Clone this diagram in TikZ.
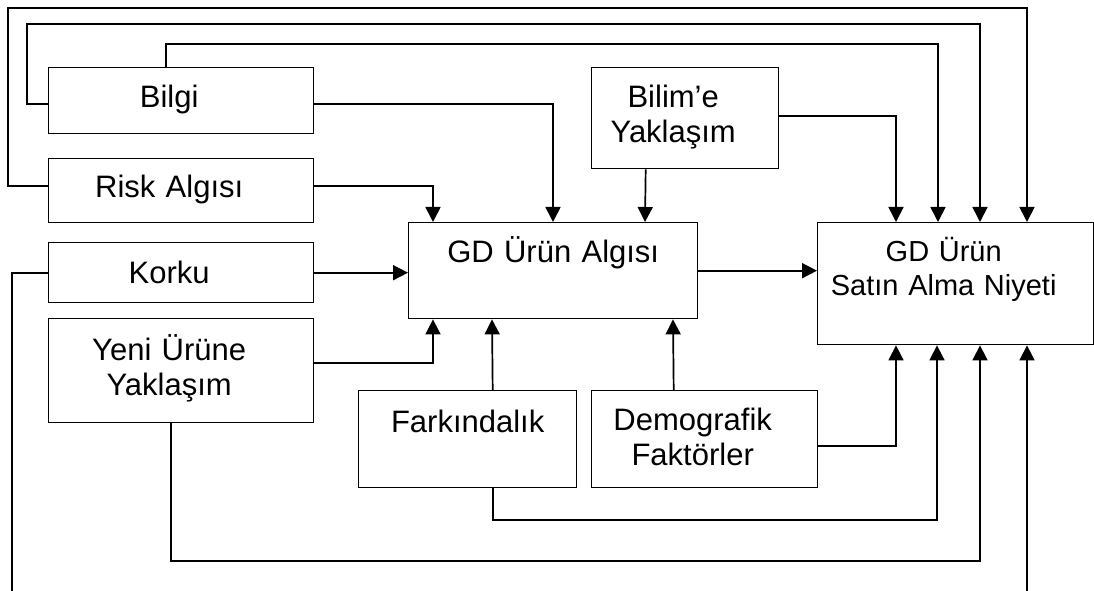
\documentclass[tikz,border=0pt]{standalone}
\usepackage{fontspec}
\setmainfont{Liberation Sans}
\usetikzlibrary{arrows.meta}

\tikzset{
  kutu/.style={draw, line width=1.4pt, inner sep=0pt, anchor=north west, align=center,
    font=\fontsize{31}{35}\selectfont},
  sol/.style={execute at begin node={\leftskip=0pt plus 1fil\rightskip=24pt plus 1fil\parfillskip=0pt\relax}},
  ok/.style={line width=1.7pt, -{Triangle[length=15pt,width=15pt]}}
}

\begin{document}
\begin{tikzpicture}[x=1pt,y=1pt]
  \useasboundingbox (0,0) rectangle (1094,590);

  \node[kutu, sol, text width=265pt, text height=40pt, text depth=26pt] (bilgi) at (48,523) {Bilgi};
  \node[kutu, sol, text width=265pt, text height=39pt, text depth=25pt] (risk) at (48,432) {Risk Algısı};
  \node[kutu, sol, text width=265pt, text height=41pt, text depth=19pt] (korku) at (48,348) {Korku};
  \node[kutu, sol, text width=265pt, text height=42pt, text depth=62pt] (yeni) at (48,272) {Yeni Ürüne\\Yaklaşım};
  \node[kutu, text width=289pt, text height=40pt, text depth=56pt] (algi) at (408,368) {GD Ürün Algısı};
  \node[kutu, sol, text width=187pt, text height=40pt, text depth=61pt] (bilim) at (591,523) {Bilim’e\\Yaklaşım};
  \node[kutu, sol, font=\fontsize{29}{34}\selectfont, text width=276pt, text height=39pt, text depth=83pt] (satin) at (817,368) {GD Ürün\\Satın Alma Niyeti};
  \node[kutu, text width=218pt, text height=42pt, text depth=55pt] (fark) at (358,200) {Farkındalık};
  \node[kutu, sol, text width=226pt, text height=40pt, text depth=57pt] (demo) at (591,200) {Demografik\\Faktörler};

  % ust hatlar
  \draw[ok] ([yshift=5pt]risk.west) -| (8,582) -| ([xshift=210pt]satin.north west);
  \draw[ok] ([yshift=-3pt]bilgi.west) -| (27,566) -| ([xshift=163pt]satin.north west);
  \draw[ok] ([xshift=-15pt]bilgi.north) |- (300,546) -| ([xshift=121pt]satin.north west);
  \draw[ok] ([yshift=2.5pt]bilim.east) -| ([xshift=79pt]satin.north west);

  \draw[ok] ([yshift=-3pt]bilgi.east) -| ([xshift=145pt]algi.north west);
  \draw[ok] ([yshift=5pt]risk.east) -| ([xshift=25pt]algi.north west);
  \draw[ok] ([xshift=-39.5pt]bilim.south) -- ([xshift=237pt]algi.north west);
  \draw[ok] (korku.east) -- (korku.east -| algi.west);
  \draw[ok] (algi.east) -- (algi.east -| satin.west);
  \draw[ok] ([yshift=8pt]yeni.east) -| ([xshift=25pt]algi.south west);
  \draw[ok] ([xshift=25pt]fark.north) -- ([xshift=84pt]algi.south west);
  \draw[ok] ([xshift=-31pt]demo.north) -- ([xshift=265pt]algi.south west);

  % alt hatlar
  \draw[ok] ([yshift=-6.5pt]demo.east) -| ([xshift=79pt]satin.south west);
  \draw[ok] ([xshift=25pt]fark.south) |- (700,70) -| ([xshift=120pt]satin.south west);
  \draw[ok] ([xshift=-10.5pt]yeni.south) |- (600,29) -| ([xshift=163pt]satin.south west);
  \draw[ok] (korku.west) -| (12,-10) -| ([xshift=210pt]satin.south west);
\end{tikzpicture}
\end{document}
